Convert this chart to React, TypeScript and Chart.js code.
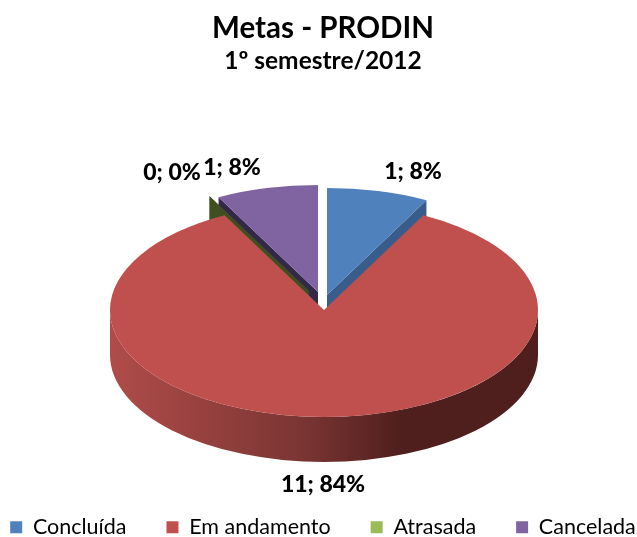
import React, { useEffect, useRef } from "react";
import { Chart, registerables } from "chart.js";

Chart.register(...registerables);

const categories = ["Concluída", "Em andamento", "Atrasada", "Cancelada"];
const values = [1, 11, 0, 1];
const percents = [8, 84, 0, 8];
const colors = ["#4f81bd", "#c0504d", "#9bbb59", "#8064a2"];
const wallColors = ["#385d8a", "#4f1f1d", "#3f4f20", "#33284a"];

const titleText = "Metas - PRODIN";
const subtitleText = "1º semestre/2012";

const FONT = "Lato, 'Open Sans', sans-serif";
const RX = 214;
const RY = 107;
const DEPTH = 45;
const sliceCenters = [
  { x: 327, y: 295 },
  { x: 324, y: 310 },
  { x: 309, y: 291 },
  { x: 318, y: 292 },
];
const labelCenters = [
  { x: 413, y: 172 },
  { x: 323, y: 485 },
  { x: 172, y: 173 },
  { x: 232, y: 168 },
];
const wallOrder = [0, 1, 3, 2];

const pie3d = {
  id: "pie3d",
  afterDatasetsUpdate(chart: any) {
    const arcs = chart.getDatasetMeta(0).data;
    const ref = arcs[0];
    const sx = RX / ref.outerRadius;
    const sy = RY / ref.outerRadius;
    const ox = ref.x;
    const oy = ref.y;
    chart.$pie = { sx, sy, ox, oy };
    arcs.forEach((a: any, i: number) => {
      a.x = ox + (sliceCenters[i].x - sliceCenters[1].x) / sx;
      a.y = oy + (sliceCenters[i].y - sliceCenters[1].y) / sy;
    });
  },
  beforeDatasetsDraw(chart: any) {
    const { ctx } = chart;
    const arcs = chart.getDatasetMeta(0).data;
    const { sx, sy, ox, oy } = chart.$pie;
    wallOrder.forEach((i: number) => {
      const a = arcs[i];
      const c = sliceCenters[i];
      if (a.endAngle - a.startAngle > Math.PI) {
        const g = ctx.createLinearGradient(c.x - RX, 0, c.x + RX, 0);
        g.addColorStop(0, "#b04c49");
        g.addColorStop(0.45, "#7a3533");
        g.addColorStop(0.68, wallColors[i]);
        g.addColorStop(1, wallColors[i]);
        ctx.fillStyle = g;
        ctx.beginPath();
        ctx.ellipse(c.x, c.y, RX, RY, 0, 0, Math.PI, false);
        ctx.lineTo(c.x - RX, c.y + DEPTH);
        ctx.ellipse(c.x, c.y + DEPTH, RX, RY, 0, Math.PI, 0, true);
        ctx.closePath();
        ctx.fill();
      } else {
        ctx.fillStyle = wallColors[i];
        [a.startAngle, a.endAngle].forEach((t: number) => {
          const px = c.x + RX * Math.cos(t);
          const py = c.y + RY * Math.sin(t);
          ctx.beginPath();
          ctx.moveTo(c.x, c.y);
          ctx.lineTo(px, py);
          ctx.lineTo(px, py + DEPTH);
          ctx.lineTo(c.x, c.y + DEPTH);
          ctx.closePath();
          ctx.fill();
        });
      }
    });
    ctx.save();
    ctx.translate(sliceCenters[1].x, sliceCenters[1].y);
    ctx.scale(sx, sy);
    ctx.translate(-ox, -oy);
  },
  afterDatasetsDraw(chart: any) {
    const { ctx } = chart;
    ctx.restore();
    ctx.save();
    ctx.fillStyle = "#000";
    ctx.font = `900 23px ${FONT}`;
    ctx.textAlign = "center";
    ctx.textBaseline = "middle";
    values.forEach((v, i) => {
      ctx.fillText(`${v}; ${percents[i]}%`, labelCenters[i].x, labelCenters[i].y);
    });
    ctx.restore();
  },
};

export default function App() {
  const ref = useRef<HTMLCanvasElement>(null);
  useEffect(() => {
    const chart = new Chart(ref.current as HTMLCanvasElement, {
      type: "pie",
      data: {
        labels: categories,
        datasets: [
          {
            data: values,
            backgroundColor: colors,
            borderWidth: 0,
            clip: false,
          } as any,
        ],
      },
      plugins: [pie3d],
      options: {
        animation: false,
        responsive: false,
        layout: { padding: { left: -40, right: -49, top: 11, bottom: -11 } },
        plugins: {
          tooltip: { enabled: false },
          title: {
            display: true,
            text: titleText,
            color: "#000",
            font: { family: FONT, size: 29.5, weight: "bold" },
            padding: { top: 0, bottom: 0 },
          },
          subtitle: {
            display: true,
            text: subtitleText,
            color: "#000",
            font: { family: FONT, size: 24.5, weight: "bold" },
            padding: { top: 0, bottom: 10 },
          },
          legend: {
            position: "bottom",
            labels: {
              boxWidth: 12,
              boxHeight: 12,
              padding: 40,
              color: "#000",
              font: { family: FONT, size: 21.5 },
            },
          },
        },
      },
    } as any);
    return () => chart.destroy();
  }, []);
  return (
    <div style={{ position: "absolute", left: 0, top: 0, width: 637, height: 537, overflow: "hidden", background: "#fff" }}>
      <canvas ref={ref} width={637} height={537} style={{ display: "block" }} />
    </div>
  );
}
